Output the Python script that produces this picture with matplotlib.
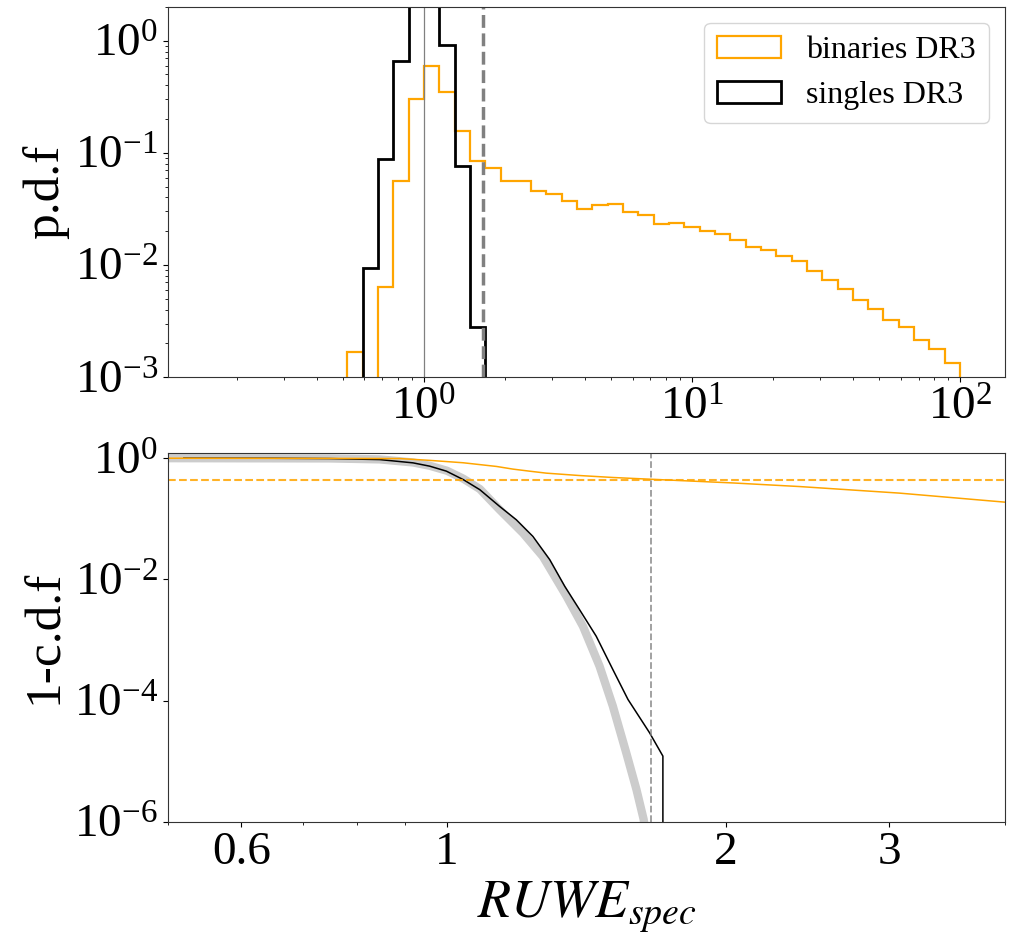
import numpy as np
import matplotlib
matplotlib.use("Agg")
import matplotlib.pyplot as plt
from matplotlib.ticker import NullFormatter, NullLocator

plt.rcParams['font.family'] = ['Liberation Serif', 'DejaVu Serif']
plt.rcParams['mathtext.fontset'] = 'stix'

# histogram bins (log-spaced, 35 bins between 1 and 100)
bin_index = np.arange(-5, 36)
edges = 10 ** (bin_index * 2.0 / 35)

# p.d.f per bin
pdf_binaries = [0.00166, 0.0, 0.0064, 0.056, 0.30, 0.59, 0.346, 0.158, 0.085, 0.0725,
                0.0566, 0.0566, 0.0461, 0.043, 0.0375, 0.0316, 0.0343, 0.0351, 0.0297, 0.0279,
                0.0232, 0.0237, 0.0218, 0.0201, 0.0189, 0.0167, 0.0143, 0.0136, 0.0121, 0.0109,
                0.00884, 0.00734, 0.0061, 0.00488, 0.00405, 0.00323, 0.00279, 0.00215, 0.00179, 0.00133]
pdf_singles = [0.00946, 0.0884, 0.663, 2.8, 2.9, 0.908, 0.077, 0.00281]
edges_singles = edges[1:10]

ruwe_ref = 1.0
ruwe_cut = 1.66
frac_above_cut = 0.444

# 1 - c.d.f curves
x_model = [0.5, 0.747, 0.846, 0.919, 0.958, 1.0, 1.041, 1.085, 1.140, 1.208, 1.269,
           1.346, 1.402, 1.461, 1.510, 1.561, 1.601, 1.630, 1.66]
y_model = [1.0, 0.99, 0.955, 0.85, 0.75, 0.62, 0.46, 0.31, 0.1406, 0.0581, 0.0239,
           0.00525, 0.00168, 3.69e-4, 8.09e-5, 1.38e-5, 3.43e-6, 1.1e-6, 2e-7]

x_single = [0.52, 0.65, 0.747, 0.846, 0.919, 0.958, 0.9985, 1.041, 1.085, 1.140, 1.188,
            1.238, 1.291, 1.340, 1.390, 1.449, 1.510, 1.568, 1.654, 1.710, 1.710]
y_single = [1.0, 0.997, 0.985, 0.948, 0.837, 0.738, 0.611, 0.444, 0.302, 0.1595, 0.0963,
            0.0511, 0.0211, 0.00767, 0.00317, 0.00115, 3.25e-4, 1.04e-4, 2.95e-5, 1.21e-5, 1e-9]

x_binary = [0.45, 0.747, 0.89, 0.958, 1.041, 1.131, 1.178, 1.228, 1.28, 1.39, 1.51,
            1.654, 2.035, 2.402, 3.078, 4.0]
y_binary = [1.0, 0.99, 0.985, 0.92, 0.84, 0.73, 0.66, 0.61, 0.566, 0.517, 0.48,
            0.45, 0.39, 0.34, 0.265, 0.188]

fig = plt.figure(figsize=(10.12, 9.42), dpi=100)
ax1 = fig.add_axes([0.166, 0.5998, 0.827, 0.3928])
ax2 = fig.add_axes([0.166, 0.1277, 0.827, 0.3917])

# top: histograms
ax1.hist(edges[:-1], bins=edges, weights=pdf_binaries, histtype='step',
         color='orange', lw=1.6, label='binaries DR3')
ax1.hist(edges_singles[:-1], bins=edges_singles, weights=pdf_singles, histtype='step',
         color='black', lw=2, label='singles DR3')
ax1.axvline(ruwe_ref, color='gray', lw=0.9)
ax1.axvline(ruwe_cut, color='gray', lw=2.5, ls='--')
ax1.set_xscale('log')
ax1.set_yscale('log')
ax1.set_xlim(0.111, 147)
ax1.set_ylim(1e-3, 2)
ax1.set_ylabel('p.d.f', fontsize=37)
ax1.tick_params(labelsize=34)
ax1.legend(loc='upper right', fontsize=23)

# bottom: 1 - c.d.f
ax2.plot(x_model, y_model, color='0.8', lw=6)
ax2.plot(x_single, y_single, color='black', lw=1.1)
ax2.plot(x_binary, y_binary, color='orange', lw=1.1)
ax2.axhline(frac_above_cut, color='orange', alpha=0.85, lw=1.5, ls='--')
ax2.axvline(ruwe_cut, color='gray', alpha=0.8, lw=1.3, ls='--')
ax2.set_xscale('log')
ax2.set_yscale('log')
ax2.set_xlim(0.5, 4)
ax2.set_ylim(1e-6, 1.23)
ax2.set_xticks([0.6, 1, 2, 3])
ax2.set_xticklabels(['0.6', '1', '2', '3'])
ax2.xaxis.set_minor_formatter(NullFormatter())
ax2.set_yticks([1e0, 1e-2, 1e-4, 1e-6])
ax2.yaxis.set_minor_locator(NullLocator())
ax2.tick_params(labelsize=34)
ax2.set_ylabel('1-c.d.f', fontsize=37)
ax2.set_xlabel('$RUWE_{spec}$', fontsize=39)

for ax in (ax1, ax2):
    for s in ax.spines.values():
        s.set_edgecolor('0.2')

fig.align_ylabels([ax1, ax2])
fig.savefig('out.png', dpi=100)
